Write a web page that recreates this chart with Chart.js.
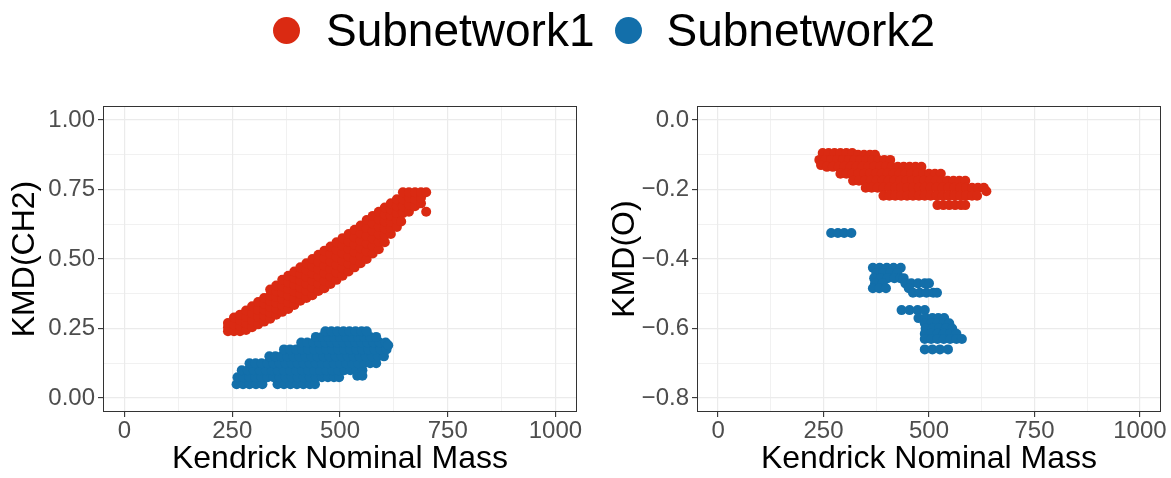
<!DOCTYPE html>
<html lang="en">
<head>
<meta charset="UTF-8">
<title>Kendrick mass defect by subnetwork</title>
<script src="https://cdn.jsdelivr.net/npm/chart.js@4"></script>
<style>
  body { margin: 0; background: #fff; font-family: "Liberation Sans", Arial, sans-serif; }
  #page { position: relative; width: 1171px; height: 478px; overflow: hidden; }
  #legend { position: absolute; left: 273px; top: 7px; height: 46px; display: flex; align-items: center;
            font-size: 46px; line-height: 46px; color: #000; z-index: 2; white-space: nowrap; }
  .key { width: 27px; height: 27px; border-radius: 50%; margin-right: 26px; }
  .key.second { margin-left: 20px; margin-right: 25px; }
  canvas { position: absolute; top: 0; }
</style>
</head>
<body>
<div id="page">
  <div id="legend"></div>
  <canvas id="leftPanel" width="590" height="478" style="left:0"></canvas>
  <canvas id="rightPanel" width="581" height="478" style="left:590px"></canvas>
</div>
<script>
// legend / series
const legendLabels = ['Subnetwork1', 'Subnetwork2'];
const colours = ['#DA2A12', '#136FAA'];

// tick positions (minor ones get a grid line but no label)
const massTicks = [0, 125, 250, 375, 500, 625, 750, 875, 1000];
const ch2Ticks = [0, 0.125, 0.25, 0.375, 0.5, 0.625, 0.75, 0.875, 1];
const oTicks = [-0.8, -0.7, -0.6, -0.5, -0.4, -0.3, -0.2, -0.1, 0];

// [Kendrick nominal mass, KMD(CH2)]
const sub1Ch2 = [
  [240,0.24],[240,0.255],[240,0.27],
  [254,0.24],[254,0.265],[254,0.29],
  [268,0.24],[268,0.26],[268,0.28],[268,0.30],
  [282,0.245],[282,0.268],[282,0.292],[282,0.315],
  [296,0.255],[296,0.28],[296,0.305],[296,0.33],
  [310,0.265],[310,0.292],[310,0.318],[310,0.345],
  [324,0.275],[324,0.296],[324,0.318],[324,0.339],[324,0.36],
  [338,0.285],[338,0.306],[338,0.327],[338,0.348],[338,0.369],[338,0.39],
  [352,0.30],[352,0.321],[352,0.342],[352,0.363],[352,0.384],[352,0.405],
  [366,0.31],[366,0.333],[366,0.356],[366,0.379],[366,0.402],[366,0.425],
  [380,0.32],[380,0.344],[380,0.368],[380,0.392],[380,0.416],[380,0.44],
  [394,0.335],[394,0.359],[394,0.383],[394,0.407],[394,0.431],[394,0.455],
  [408,0.35],[408,0.374],[408,0.398],[408,0.422],[408,0.446],[408,0.47],
  [422,0.36],[422,0.385],[422,0.41],[422,0.435],[422,0.46],[422,0.485],
  [436,0.37],[436,0.396],[436,0.422],[436,0.448],[436,0.474],[436,0.50],
  [450,0.385],[450,0.411],[450,0.437],[450,0.463],[450,0.489],[450,0.515],
  [464,0.395],[464,0.422],[464,0.449],[464,0.476],[464,0.503],[464,0.53],
  [478,0.41],[478,0.437],[478,0.464],[478,0.491],[478,0.518],[478,0.545],
  [492,0.425],[492,0.452],[492,0.479],[492,0.506],[492,0.533],[492,0.56],
  [506,0.44],[506,0.467],[506,0.494],[506,0.521],[506,0.548],[506,0.575],
  [520,0.455],[520,0.482],[520,0.509],[520,0.536],[520,0.563],[520,0.59],
  [534,0.47],[534,0.497],[534,0.524],[534,0.551],[534,0.578],[534,0.605],
  [548,0.485],[548,0.512],[548,0.539],[548,0.566],[548,0.593],[548,0.62],
  [562,0.50],[562,0.528],[562,0.556],[562,0.584],[562,0.612],[562,0.64],
  [576,0.52],[576,0.547],[576,0.574],[576,0.601],[576,0.628],[576,0.655],
  [590,0.535],[590,0.562],[590,0.589],[590,0.616],[590,0.643],[590,0.67],
  [604,0.56],[604,0.585],[604,0.61],[604,0.635],[604,0.66],[604,0.685],
  [618,0.59],[618,0.612],[618,0.634],[618,0.656],[618,0.678],[618,0.70],
  [632,0.615],[632,0.64],[632,0.665],[632,0.69],[632,0.715],
  [642,0.635],[646,0.665],[646,0.69],[646,0.715],[646,0.74],
  [660,0.67],[660,0.695],[660,0.72],[660,0.74],
  [674,0.69],[674,0.715],[674,0.74],
  [688,0.70],[688,0.72],[688,0.74],
  [700,0.74],[700,0.67]
];

const sub2Ch2 = [
  [260,0.05],[275,0.05],[290,0.05],[305,0.05],[320,0.05],[355,0.05],[370,0.05],[385,0.05],
  [400,0.05],[415,0.05],[430,0.05],[442,0.05],
  [262,0.075],[276,0.075],[290,0.075],[304,0.075],[318,0.075],[332,0.075],[346,0.075],[360,0.075],
  [374,0.075],[388,0.075],[402,0.075],[416,0.075],[430,0.075],[444,0.075],[458,0.075],[472,0.075],
  [486,0.075],[498,0.075],
  [272,0.10],[286,0.10],[300,0.10],[314,0.10],[328,0.10],[342,0.10],[356,0.10],[370,0.10],
  [384,0.10],[398,0.10],[412,0.10],[426,0.10],[440,0.10],[454,0.10],[468,0.10],[482,0.10],
  [496,0.10],[510,0.10],[524,0.10],[538,0.10],[552,0.10],
  [290,0.125],[304,0.125],[318,0.125],[332,0.125],[346,0.125],[360,0.125],[374,0.125],[388,0.125],
  [402,0.125],[416,0.125],[430,0.125],[444,0.125],[458,0.125],[472,0.125],[486,0.125],[500,0.125],
  [514,0.125],[528,0.125],[542,0.125],[556,0.125],[570,0.125],[584,0.125],
  [336,0.15],[350,0.15],[364,0.15],[378,0.15],[392,0.15],[406,0.15],[420,0.15],[434,0.15],
  [448,0.15],[462,0.15],[476,0.15],[490,0.15],[504,0.15],[518,0.15],[532,0.15],[546,0.15],
  [560,0.15],[574,0.15],[588,0.15],[602,0.15],
  [370,0.175],[384,0.175],[398,0.175],[412,0.175],[426,0.175],[440,0.175],[454,0.175],[468,0.175],
  [482,0.175],[496,0.175],[510,0.175],[524,0.175],[538,0.175],[552,0.175],[566,0.175],[580,0.175],
  [594,0.175],[608,0.175],
  [410,0.20],[424,0.20],[438,0.20],[452,0.20],[466,0.20],[480,0.20],[494,0.20],[508,0.20],
  [522,0.20],[536,0.20],[550,0.20],[564,0.20],[578,0.20],[592,0.20],[606,0.20],
  [444,0.22],[458,0.22],[472,0.22],[486,0.22],[500,0.22],[514,0.22],[528,0.22],[542,0.22],
  [556,0.22],[570,0.22],[584,0.22],
  [466,0.24],[480,0.24],[494,0.24],[508,0.24],[522,0.24],[536,0.24],[550,0.24],[562,0.24],
  [540,0.08],[552,0.08],[612,0.19]
];

// [Kendrick nominal mass, KMD(O)]
const sub1O = [
  [248,-0.095],[262,-0.095],[276,-0.095],[290,-0.095],[304,-0.095],[318,-0.095],
  [332,-0.10],[346,-0.10],[360,-0.10],[372,-0.10],
  [240,-0.115],[254,-0.115],[268,-0.115],[282,-0.115],[296,-0.115],[310,-0.115],[324,-0.115],
  [338,-0.115],[352,-0.115],[366,-0.115],[380,-0.115],[394,-0.115],[408,-0.115],
  [244,-0.13],
  [258,-0.135],[272,-0.135],[286,-0.135],[300,-0.135],[314,-0.135],[328,-0.135],[342,-0.135],
  [356,-0.135],[370,-0.135],[384,-0.135],[398,-0.135],[412,-0.135],[426,-0.135],[440,-0.135],
  [454,-0.135],[468,-0.135],[482,-0.135],
  [290,-0.155],[304,-0.155],[318,-0.155],[332,-0.155],[346,-0.155],[360,-0.155],[374,-0.155],
  [388,-0.155],[402,-0.155],[416,-0.155],[430,-0.155],[444,-0.155],[458,-0.155],[472,-0.155],
  [486,-0.155],[500,-0.155],[514,-0.155],[528,-0.155],
  [320,-0.175],[334,-0.175],[348,-0.175],[362,-0.175],[376,-0.175],[390,-0.175],[404,-0.175],
  [418,-0.175],[432,-0.175],[446,-0.175],[460,-0.175],[474,-0.175],[488,-0.175],[502,-0.175],
  [516,-0.175],[530,-0.175],[544,-0.175],[558,-0.175],[572,-0.175],[586,-0.175],
  [350,-0.195],[364,-0.195],[378,-0.195],[392,-0.195],[406,-0.195],[420,-0.195],[434,-0.195],
  [448,-0.195],[462,-0.195],[476,-0.195],[490,-0.195],[504,-0.195],[518,-0.195],[532,-0.195],
  [546,-0.195],[560,-0.195],[574,-0.195],[588,-0.195],[602,-0.195],[616,-0.195],[630,-0.195],
  [636,-0.205],
  [392,-0.218],[406,-0.218],[420,-0.218],[434,-0.218],[448,-0.218],[462,-0.218],[476,-0.218],
  [490,-0.218],[504,-0.218],[518,-0.218],[532,-0.218],[546,-0.218],[560,-0.218],[574,-0.218],
  [588,-0.218],[602,-0.218],[614,-0.218],
  [520,-0.245],[534,-0.245],[548,-0.245],[562,-0.245],[576,-0.245],[586,-0.245]
];

const sub2O = [
  [268,-0.325],[284,-0.325],[299,-0.325],[316,-0.325],
  [367,-0.425],[383,-0.425],[400,-0.425],[416,-0.425],[433,-0.425],
  [375,-0.44],[392,-0.44],[408,-0.44],[425,-0.44],
  [370,-0.455],[386,-0.455],[402,-0.455],[418,-0.455],[432,-0.455],[440,-0.455],
  [372,-0.47],[390,-0.47],[444,-0.47],[458,-0.47],[474,-0.47],[490,-0.47],[500,-0.47],
  [367,-0.484],[382,-0.484],[398,-0.484],[452,-0.484],
  [462,-0.497],[478,-0.497],[494,-0.497],[510,-0.497],[519,-0.497],
  [435,-0.547],[454,-0.547],[473,-0.547],[490,-0.547],
  [475,-0.57],[492,-0.57],[508,-0.57],[522,-0.57],[536,-0.57],
  [490,-0.585],[505,-0.585],[520,-0.585],[535,-0.585],[548,-0.585],
  [492,-0.60],[508,-0.60],[524,-0.60],[540,-0.60],[555,-0.60],
  [490,-0.615],[505,-0.615],[520,-0.615],[535,-0.615],[550,-0.615],[565,-0.615],
  [490,-0.63],[505,-0.63],[520,-0.63],[535,-0.63],[550,-0.63],[565,-0.63],[578,-0.63],
  [490,-0.66],[508,-0.66],[526,-0.66],[545,-0.66]
];

const FONT = '"Liberation Sans", Arial, sans-serif';

// legend
const legendEl = document.getElementById('legend');
legendLabels.forEach((name, i) => {
  const dot = document.createElement('span');
  dot.className = i ? 'key second' : 'key';
  dot.style.background = colours[i];
  const txt = document.createElement('span');
  txt.textContent = name;
  legendEl.appendChild(dot);
  legendEl.appendChild(txt);
});

// ggplot-ish panel border round the plot area
const panelBorder = {
  id: 'panelBorder',
  afterDraw(chart) {
    const { ctx, chartArea: a } = chart;
    ctx.save();
    ctx.strokeStyle = '#333333';
    ctx.lineWidth = 1;
    ctx.strokeRect(a.left + 0.5, a.top + 0.5, a.right - a.left - 1, a.bottom - a.top - 1);
    ctx.restore();
  }
};

function gridFor(isMajor) {
  return {
    color: '#EBEBEB',
    lineWidth: c => (c.tick && isMajor(c.tick.value)) ? 1.2 : 0.7,
    tickColor: c => (c.tick && isMajor(c.tick.value)) ? '#333333' : 'rgba(0,0,0,0)',
    tickWidth: 1.1,
    tickLength: 5
  };
}

function makePanel(id, red, blue, yTicks, yMin, yMax, yTitle, isMajorY, fmtY, padLeft, yWidth, padRight) {
  const isMajorX = v => v % 250 === 0;
  return new Chart(document.getElementById(id), {
    type: 'scatter',
    data: {
      datasets: [
        { label: legendLabels[0], data: red.map(p => ({ x: p[0], y: p[1] })),
          backgroundColor: colours[0], pointRadius: 5, borderWidth: 0 },
        { label: legendLabels[1], data: blue.map(p => ({ x: p[0], y: p[1] })),
          backgroundColor: colours[1], pointRadius: 5, borderWidth: 0 }
      ]
    },
    options: {
      responsive: false,
      animation: false,
      events: [],
      layout: { padding: { left: padLeft, right: padRight, top: 106, bottom: 0 } },
      plugins: { legend: { display: false }, tooltip: { enabled: false } },
      scales: {
        x: {
          type: 'linear', min: -50, max: 1050,
          afterBuildTicks: s => { s.ticks = massTicks.map(v => ({ value: v })); },
          afterFit: s => { s.height = 66; },
          grid: gridFor(isMajorX),
          border: { display: false },
          ticks: { autoSkip: false, maxRotation: 0, padding: 0, color: '#4D4D4D',
                   font: { size: 24, family: FONT },
                   callback: v => isMajorX(v) ? String(v) : '' },
          title: { display: true, text: 'Kendrick Nominal Mass', color: '#000',
                   font: { size: 32, family: FONT }, padding: 0 }
        },
        y: {
          type: 'linear', min: yMin, max: yMax,
          afterBuildTicks: s => { s.ticks = yTicks.map(v => ({ value: v })); },
          afterFit: s => { s.width = yWidth; },
          grid: gridFor(isMajorY),
          border: { display: false },
          ticks: { autoSkip: false, padding: 3, color: '#4D4D4D',
                   font: { size: 24, family: FONT },
                   callback: v => isMajorY(v) ? fmtY(v) : '' },
          title: { display: true, text: yTitle, color: '#000',
                   font: { size: 32, family: FONT }, padding: 0 }
        }
      }
    },
    plugins: [panelBorder]
  });
}

const leftChart = makePanel('leftPanel', sub1Ch2, sub2Ch2, ch2Ticks, -0.05, 1.05, 'KMD(CH2)',
  v => Math.round(v * 1000) % 250 === 0,
  v => v.toFixed(2),
  6, 97, 13);

const rightChart = makePanel('rightPanel', sub1O, sub2O, oTicks, -0.84, 0.04, 'KMD(O)',
  v => Math.round(Math.abs(v) * 10) % 2 === 0,
  v => (v < -1e-9 ? '\u2212' : '') + Math.abs(v).toFixed(1),
  16, 91, 10);
</script>
</body>
</html>
